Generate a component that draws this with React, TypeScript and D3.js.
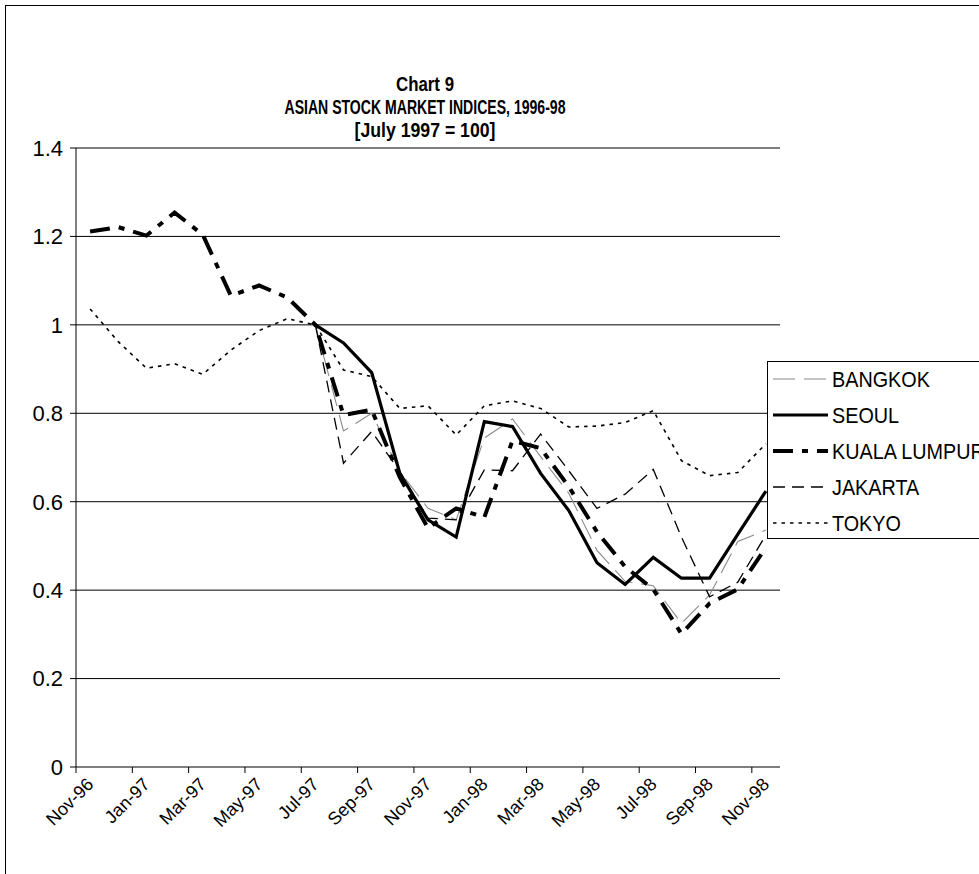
import React from "react";
import * as d3 from "d3";

// Monthly categories, Nov-96 to Nov-98
const months = [
  "Nov-96", "Dec-96", "Jan-97", "Feb-97", "Mar-97", "Apr-97", "May-97", "Jun-97",
  "Jul-97", "Aug-97", "Sep-97", "Oct-97", "Nov-97", "Dec-97", "Jan-98", "Feb-98",
  "Mar-98", "Apr-98", "May-98", "Jun-98", "Jul-98", "Aug-98", "Sep-98", "Oct-98", "Nov-98",
];

const N = null;
const bangkok = [N, N, N, N, N, N, N, N,
  1.0, 0.76, 0.8, 0.668, 0.585, 0.559, 0.744, 0.787, 0.702, 0.619, 0.49, 0.42, 0.41, 0.325, 0.389, 0.51, 0.536];
const seoul = [N, N, N, N, N, N, N, N,
  1.0, 0.959, 0.892, 0.664, 0.559, 0.52, 0.781, 0.77, 0.664, 0.58, 0.462, 0.413, 0.474, 0.427, 0.427, 0.526, 0.624];
const kualaLumpur = [1.211, 1.221, 1.202, 1.254, 1.204, 1.066, 1.089, 1.062,
  1.0, 0.796, 0.808, 0.655, 0.54, 0.585, 0.565, 0.738, 0.721, 0.634, 0.532, 0.453, 0.402, 0.301, 0.37, 0.402, 0.497];
const jakarta = [N, N, N, N, N, N, N, N,
  1.0, 0.687, 0.759, 0.668, 0.563, 0.559, 0.672, 0.67, 0.753, 0.67, 0.585, 0.617, 0.673, 0.52, 0.385, 0.418, 0.525];
const tokyo = [1.036, 0.962, 0.902, 0.912, 0.888, 0.943, 0.987, 1.014,
  1.0, 0.898, 0.883, 0.811, 0.817, 0.751, 0.817, 0.828, 0.811, 0.769, 0.771, 0.779, 0.806, 0.693, 0.659, 0.666, 0.731];

const yTicks = [0, 0.2, 0.4, 0.6, 0.8, 1, 1.2, 1.4];
const yTickLabels = ["0", "0.2", "0.4", "0.6", "0.8", "1", "1.2", "1.4"];

const titleLines = ["Chart 9", "ASIAN STOCK MARKET INDICES, 1996-98", "[July 1997 = 100]"];

type Series = {
  name: string;
  values: (number | null)[];
  stroke: string;
  width: number;
  dash: string;
};

const series: Series[] = [
  { name: "BANGKOK", values: bangkok, stroke: "#8a8a8a", width: 1.1, dash: "22,9" },
  { name: "SEOUL", values: seoul, stroke: "#000", width: 3.2, dash: "none" },
  { name: "KUALA LUMPUR", values: kualaLumpur, stroke: "#000", width: 4, dash: "20,9,6,9" },
  { name: "JAKARTA", values: jakarta, stroke: "#000", width: 1.3, dash: "12,7" },
  { name: "TOKYO", values: tokyo, stroke: "#000", width: 1.6, dash: "3.5,5" },
];

const W = 979;
const H = 874;
const plot = { left: 76, right: 780, top: 148, bottom: 767 };

export default function App() {
  const x = d3.scaleBand<string>().domain(months).range([plot.left, plot.right]).padding(0);
  const bw = x.bandwidth();
  const cx = (m: string) => (x(m) as number) + bw / 2;
  const y = d3.scaleLinear().domain([0, 1.4]).range([plot.bottom, plot.top]);

  const line = d3
    .line<number | null>()
    .defined((d) => d != null)
    .x((_, i) => cx(months[i]))
    .y((d) => y(d as number));

  const tickMonths = months.filter((_, i) => i % 2 === 0);
  const fontFamily = "'Liberation Sans', Arial, Helvetica, sans-serif";

  const legend = { x: 767, y: 361, w: 260, h: 177, row: 36 };

  return (
    <svg
      width={W}
      height={H}
      style={{ position: "absolute", left: 0, top: 0, background: "#fff" }}
      fontFamily={fontFamily}
    >
      <rect x={0} y={0} width={W} height={H} fill="#fff" />
      {/* chart frame */}
      <rect x={5.5} y={5.5} width={1100} height={1000} fill="none" stroke="#000" strokeWidth={1} />

      {/* title */}
      {titleLines.map((t, i) => {
        const widths = [58, 281, 141];
        const ys = [91, 114, 137];
        const cxT = 425;
        return (
          <text
            key={t}
            x={cxT - widths[i] / 2}
            y={ys[i]}
            fontSize={21}
            fontWeight="bold"
            textLength={widths[i]}
            lengthAdjust="spacingAndGlyphs"
          >
            {t}
          </text>
        );
      })}

      {/* gridlines */}
      {yTicks.filter((v) => v > 0).map((v) => (
        <line key={v} x1={plot.left} x2={plot.right} y1={y(v)} y2={y(v)} stroke="#000" strokeWidth={1} />
      ))}

      {/* y axis */}
      <line x1={plot.left} x2={plot.left} y1={plot.top} y2={plot.bottom} stroke="#000" />
      {yTicks.map((v, i) => (
        <g key={v}>
          <line x1={plot.left - 6} x2={plot.left} y1={y(v)} y2={y(v)} stroke="#000" />
          <text x={63} y={y(v)} dy="0.36em" textAnchor="end" fontSize={22}>
            {yTickLabels[i]}
          </text>
        </g>
      ))}

      {/* x axis */}
      <line x1={plot.left} x2={plot.right} y1={plot.bottom} y2={plot.bottom} stroke="#000" />
      {tickMonths.map((m) => (
        <g key={m}>
          <line x1={x(m)} x2={x(m)} y1={plot.bottom} y2={plot.bottom + 6} stroke="#000" />
          <text
            transform={`translate(${cx(m)},${plot.bottom + 14}) rotate(-45)`}
            textAnchor="end"
            dy="0.35em"
            fontSize={18}
          >
            {m}
          </text>
        </g>
      ))}

      {/* series lines */}
      {series.map((s) => (
        <path
          key={s.name}
          d={line(s.values) || ""}
          fill="none"
          stroke={s.stroke}
          strokeWidth={s.width}
          strokeDasharray={s.dash}
          strokeLinejoin="miter"
        />
      ))}

      {/* legend */}
      <rect x={legend.x + 0.5} y={legend.y + 0.5} width={legend.w} height={legend.h} fill="#fff" stroke="#000" />
      {series.map((s, i) => {
        const ly = legend.y + 18 + i * legend.row;
        return (
          <g key={s.name}>
            <line
              x1={legend.x + 6}
              x2={legend.x + 61}
              y1={ly}
              y2={ly}
              stroke={s.stroke}
              strokeWidth={s.width}
              strokeDasharray={s.dash}
            />
            <text
              transform={`translate(${legend.x + 65},${ly}) scale(0.9,1)`}
              dy="0.36em"
              fontSize={22}
            >
              {s.name}
            </text>
          </g>
        );
      })}
    </svg>
  );
}
